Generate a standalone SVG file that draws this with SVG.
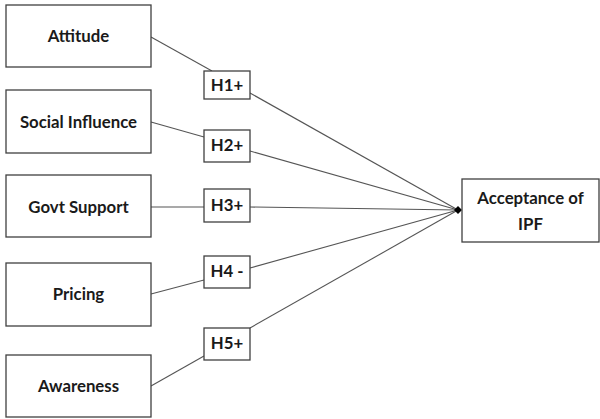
<svg xmlns="http://www.w3.org/2000/svg" width="600" height="419" viewBox="0 0 600 419">
<style>
.box{fill:#fff;stroke:#404040;stroke-width:1.3}
.t{font-family:Lato,"Liberation Sans",sans-serif;font-weight:bold;font-size:16.8px;fill:#1a1a1a;text-anchor:middle}
.c{stroke:#555;stroke-width:1.1;fill:none}
</style>
<rect width="600" height="419" fill="#fff"/>
<g id="connectors">
<polyline class="c" points="151,37 212,71"/>
<polyline class="c" points="250,93 458,210"/>
<polyline class="c" points="151,122 204,137"/>
<polyline class="c" points="250,151 458,210"/>
<polyline class="c" points="151,207 204,207"/>
<polyline class="c" points="250,207 458,210"/>
<polyline class="c" points="151,294 204,280"/>
<polyline class="c" points="250,268 458,210"/>
<polyline class="c" points="151,386 204,356"/>
<polyline class="c" points="250,328 458,210"/>
<path d="M454,210 L458,206 L462,210 L458,214 Z" fill="#000"/>
</g>
<g id="attitude"><rect class="box" x="6" y="5" width="145" height="62"/><text class="t" x="78.5" y="42">Attitude</text></g>
<g id="social"><rect class="box" x="6" y="90" width="145" height="63"/><text class="t" x="78.5" y="128">Social Influence</text></g>
<g id="govt"><rect class="box" x="6" y="175" width="145" height="62"/><text class="t" x="78.5" y="213">Govt Support</text></g>
<g id="pricing"><rect class="box" x="6" y="263" width="145" height="63"/><text class="t" x="78.5" y="300">Pricing</text></g>
<g id="awareness"><rect class="box" x="6" y="355" width="145" height="62"/><text class="t" x="78.5" y="392">Awareness</text></g>
<g id="h1"><rect class="box" x="204" y="71" width="46" height="28"/><text class="t" x="227" y="91">H1+</text></g>
<g id="h2"><rect class="box" x="204" y="130" width="46" height="32"/><text class="t" x="227" y="151">H2+</text></g>
<g id="h3"><rect class="box" x="204" y="189" width="46" height="33"/><text class="t" x="227" y="211">H3+</text></g>
<g id="h4"><rect class="box" x="204" y="256" width="46" height="32"/><text class="t" x="227" y="277">H4 -</text></g>
<g id="h5"><rect class="box" x="204" y="328" width="46" height="32"/><text class="t" x="227" y="349">H5+</text></g>
<g id="acceptance"><rect class="box" x="462" y="179" width="137" height="63"/><text class="t" x="530.5" y="204">Acceptance of</text><text class="t" x="530.5" y="230">IPF</text></g>
</svg>
